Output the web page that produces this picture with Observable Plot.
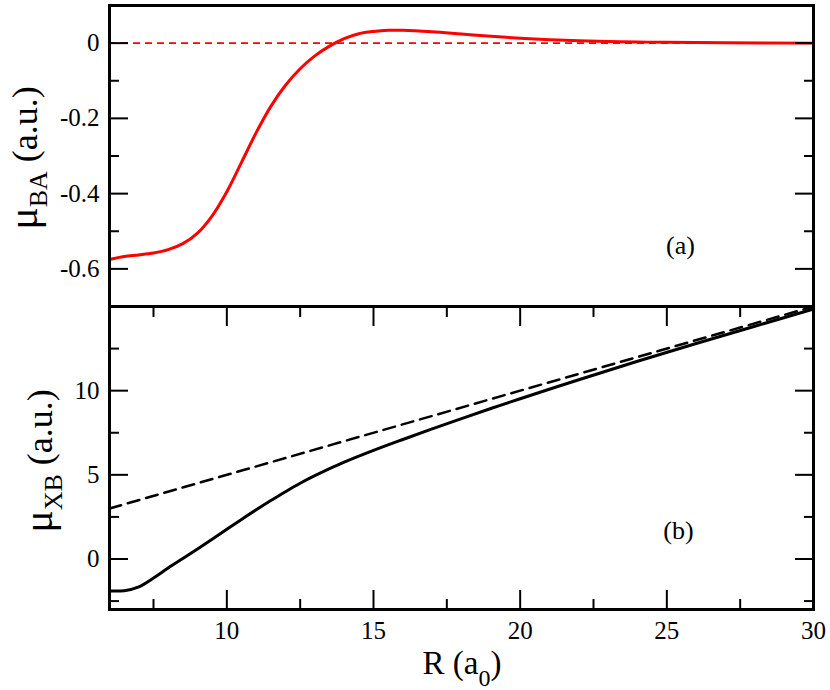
<!DOCTYPE html>
<html><head><meta charset="utf-8">
<script src="https://cdn.jsdelivr.net/npm/d3@7"></script>
<script src="https://cdn.jsdelivr.net/npm/@observablehq/plot@0.6"></script>
<style>
body{margin:0;background:#fff;}
#wrap{position:relative;width:830px;height:690px;overflow:hidden;background:#fff;}
#wrap svg{position:absolute;left:0;background:transparent;}
#wrap svg text{font-family:"Liberation Serif","Times New Roman",Times,serif !important;}
</style></head><body><div id="wrap"></div>
<script>
// ---- data ----
const R_BA = [6, 6.5, 7, 7.5, 8, 8.5, 9, 9.5, 10, 10.5, 11, 11.5, 12, 12.5, 13, 13.5, 14, 14.5, 15, 15.5, 16, 17, 18, 19, 20, 21, 22, 23, 24, 25, 27, 30];
const MU_BA = [-0.575, -0.567, -0.563, -0.558, -0.549, -0.533, -0.505, -0.459, -0.395, -0.317, -0.238, -0.168, -0.112, -0.068, -0.034, -0.008, 0.012, 0.025, 0.031, 0.034, 0.034, 0.030, 0.024, 0.018, 0.013, 0.009, 0.006, 0.004, 0.003, 0.002, 0.001, 0];
const R_XB = [6, 6.5, 7, 7.5, 8, 8.5, 9, 9.5, 10, 10.5, 11, 11.5, 12, 12.5, 13, 14, 15, 16, 17, 18, 19, 20, 22, 24, 26, 28, 30];
const MU_XB = [-1.9, -1.88, -1.65, -1.13, -0.53, 0.03, 0.6, 1.18, 1.77, 2.35, 2.92, 3.47, 4.0, 4.5, 4.95, 5.75, 6.45, 7.1, 7.73, 8.34, 8.94, 9.52, 10.65, 11.75, 12.8, 13.83, 14.85];
const R_LIN = [6, 30];
const MU_LIN = [3, 15];
const REF_ZERO = [0];

const xTickLabels = [10, 15, 20, 25, 30];
const xMajor = [10, 15, 20, 25];
const xMinor = [7.5, 12.5, 17.5, 22.5, 27.5];
const yTopMajor = [0, -0.2, -0.4, -0.6];
const yTopMinor = [-0.1, -0.3, -0.5];
const yBotMajor = [0, 5, 10];
const yBotMinor = [-2.5, 2.5, 7.5, 12.5];
const panelLabels = ["(a)", "(b)"];

const topData = R_BA.map((r, i) => ({R: r, mu: MU_BA[i]}));
const botData = R_XB.map((r, i) => ({R: r, mu: MU_XB[i]}));
const linData = R_LIN.map((r, i) => ({R: r, mu: MU_LIN[i]}));

const fontFamily = '"Liberation Serif", "Times New Roman", Times, serif';
const fmt = d => String(d);
const blank = () => "";
const wrap = document.getElementById("wrap");

function ticksY(major, minor) {
  return [
    Plot.axisY(major, {anchor: "left", tickSize: -19, tickPadding: 29, strokeWidth: 2, tickFormat: fmt, label: null}),
    Plot.axisY(minor, {anchor: "left", tickSize: -10, strokeWidth: 2, tickFormat: blank, label: null}),
    Plot.axisY(major, {anchor: "right", tickSize: -19, strokeWidth: 2, tickFormat: blank, label: null}),
    Plot.axisY(minor, {anchor: "right", tickSize: -10, strokeWidth: 2, tickFormat: blank, label: null})
  ];
}

const topPlot = Plot.plot({
  width: 830, height: 310,
  marginLeft: 109, marginRight: 17, marginTop: 5, marginBottom: 4,
  x: {domain: [6, 30], axis: null},
  y: {domain: [-0.7, 0.1]},
  style: {fontFamily, fontSize: "25px", background: "transparent", overflow: "visible", color: "black"},
  marks: [
    Plot.ruleY(REF_ZERO, {stroke: "#ff0000", strokeWidth: 1.6, strokeDasharray: "7,5"}),
    Plot.line(topData, {x: "R", y: "mu", stroke: "#ff0000", strokeWidth: 3, curve: "catmull-rom"}),
    ...ticksY(yTopMajor, yTopMinor),
    Plot.text([panelLabels[0]], {text: d => d, frameAnchor: "bottom-right", dx: -133, dy: -61, textAnchor: "middle", lineAnchor: "middle", fontSize: 26}),
    Plot.frame({strokeWidth: 3, stroke: "black"})
  ]
});
topPlot.style.top = "0px";
wrap.appendChild(topPlot);

const botPlot = Plot.plot({
  width: 830, height: 390,
  marginLeft: 109, marginRight: 17, marginTop: 6, marginBottom: 81,
  x: {domain: [6, 30]},
  y: {domain: [-3, 15]},
  style: {fontFamily, fontSize: "25px", background: "transparent", overflow: "visible", color: "black"},
  marks: [
    Plot.line(linData, {x: "R", y: "mu", stroke: "black", strokeWidth: 2.5, strokeDasharray: "12,7"}),
    Plot.line(botData, {x: "R", y: "mu", stroke: "black", strokeWidth: 3, curve: "catmull-rom"}),
    ...ticksY(yBotMajor, yBotMinor),
    Plot.axisX(xTickLabels, {anchor: "bottom", tickSize: -19, tickPadding: 31, strokeWidth: 2, tickFormat: fmt, label: null}),
    Plot.axisX(xMinor, {anchor: "bottom", tickSize: -10, strokeWidth: 2, tickFormat: blank, label: null}),
    Plot.axisX(xMajor, {anchor: "top", tickSize: -19, strokeWidth: 2, tickFormat: blank, label: null}),
    Plot.axisX(xMinor, {anchor: "top", tickSize: -10, strokeWidth: 2, tickFormat: blank, label: null}),
    Plot.text([panelLabels[1]], {text: d => d, frameAnchor: "bottom-right", dx: -135, dy: -79, textAnchor: "middle", lineAnchor: "middle", fontSize: 26}),
    Plot.frame({strokeWidth: 3, stroke: "black"})
  ]
});
botPlot.style.top = "300px";
wrap.appendChild(botPlot);

function subLabel(svg, x, y, rotate, main, sub, rest, size, mainSize, subSize, shift) {
  const t = d3.select(svg).append("text")
    .attr("transform", `translate(${x},${y})` + (rotate ? " rotate(-90)" : ""))
    .attr("text-anchor", "middle")
    .attr("fill", "black")
    .style("font-size", size + "px");
  t.append("tspan").style("font-size", mainSize + "px").text(main);
  t.append("tspan").attr("dy", shift).style("font-size", subSize + "px").text(sub);
  t.append("tspan").attr("dy", -shift).text(rest);
}
subLabel(topPlot, 37, 158, true, "μ", "BA", " (a.u.)", 36, 42, 26, 10);
subLabel(botPlot, 52, 161, true, "μ", "XB", " (a.u.)", 36, 42, 26, 10);
subLabel(botPlot, 462, 374, false, "R (a", "0", ")", 33, 33, 24, 12);
</script>
</body></html>
